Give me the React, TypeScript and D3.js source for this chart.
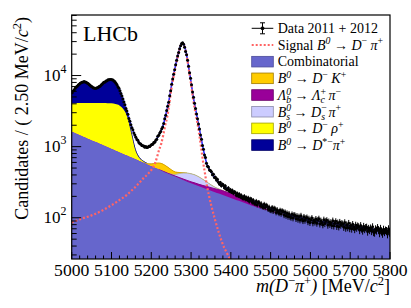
import React from "react";
import * as d3 from "d3";

const W = 411;
const H = 308;
const plot = { left: 71.7, right: 390, top: 15, bottom: 259 };
const font = "Liberation Serif, Tinos, Times New Roman, Times, serif";

// histogram: 320 bins of 2.5 MeV from 5000 to 5800
const binLow = 5000;
const binWidth = 2.5;
const dataCounts = [
  5712, 6055, 6260, 6601, 6875, 7046, 7362, 7551, 7812, 7896, 8075, 8119,
  8225, 8097, 8061, 7862, 7744, 7462, 7329, 7071, 6932, 6751, 6703, 6598,
  6611, 6758, 6797, 6985, 7086, 7371, 7523, 7829, 8047, 8142, 8396, 8478,
  8695, 8703, 8821, 8772, 8734, 8641, 8362, 8190, 7801, 7437, 6948, 6632,
  6132, 5574, 5139, 4669, 4233, 3891, 3452, 3171, 2844, 2497, 2281, 2032,
  1842, 1723, 1553, 1456, 1352, 1259, 1226, 1147, 1098, 1091, 1037, 1031,
  1019, 983, 1001, 972, 978, 1012, 1003, 1044, 1068, 1079, 1141, 1152,
  1226, 1275, 1398, 1447, 1557, 1632, 1779, 1895, 2112, 2471, 2765, 3226,
  3702, 4221, 5183, 6127, 7534, 8962, 10446, 12072, 14153, 16351, 18779, 21146,
  23771, 26248, 28301, 28822, 27534, 25089, 21742, 19567, 16458, 13561, 10945, 9139,
  7392, 5871, 4933, 4072, 3436, 2874, 2471, 2083, 1772, 1461, 1268, 1037,
  921, 764, 702, 586, 528, 517, 468, 461, 442, 403, 409, 368,
  371, 339, 347, 316, 298, 312, 283, 295, 288, 264, 279, 252,
  249, 262, 238, 247, 231, 242, 222, 230, 226, 208, 219, 203,
  214, 197, 206, 190, 188, 201, 183, 192, 179, 190, 171, 184,
  182, 165, 176, 160, 158, 171, 152, 165, 163, 147, 158, 144,
  141, 155, 139, 150, 146, 132, 141, 128, 127, 139, 124, 136,
  133, 119, 130, 121, 116, 127, 114, 125, 122, 109, 120, 107,
  116, 104, 114, 103, 101, 112, 99, 110, 108, 97, 106, 95,
  104, 93, 107, 96, 91, 103, 92, 99, 101, 88, 97, 86,
  94, 99, 85, 92, 87, 96, 84, 93, 97, 82, 91, 86,
  80, 94, 83, 90, 92, 79, 88, 81, 86, 78, 91, 77,
  84, 89, 76, 85, 75, 87, 79, 83, 82, 74, 86, 72,
  80, 73, 84, 71, 78, 70, 81, 74, 69, 79, 72, 77,
  75, 67, 78, 70, 66, 76, 69, 73, 74, 64, 71, 67,
  72, 65, 75, 63, 62, 70, 66, 73, 68, 61, 71, 64,
  60, 69, 63, 67, 66, 59, 70, 62,
];

// fit components, 10 MeV steps starting at "from" (zero outside the list)
const combFrom = 5000;
const combVals = [
  1620, 1532, 1449, 1370, 1296, 1225, 1159, 1096, 1036, 980,
  927, 877, 829, 784, 742, 701, 663, 627, 593, 561,
  530, 501, 474, 448, 423, 400, 379, 359, 340, 322,
  305, 291, 277, 264, 252, 240, 229, 219, 209, 199,
  190, 181, 173, 165, 157, 150, 144, 138, 133, 127,
  122, 118, 114, 110, 107, 103, 101, 99, 96, 94,
  92, 90, 89, 87, 86, 84, 82, 81, 79, 78,
  76, 75, 73, 72, 70, 69, 68, 67, 66, 65, 64,
];
const lbFrom = 5230;
const lbVals = [2, 3, 5, 7, 9, 11, 13, 15, 17, 18, 20, 23, 25, 27, 29, 30, 30, 30, 29, 27, 25, 22, 20, 15, 11, 8, 5, 3, 2, 1];
const bsFrom = 5250;
const bsVals = [5, 20, 50, 75, 90, 95, 92, 80, 62, 42, 25, 13, 6, 2];
const dkFrom = 5190;
const dkVals = [10, 40, 85, 115, 115, 95, 65, 35, 15, 5];
const rhoFrom = 5000;
const rhoVals = [2460, 2558, 2646, 2730, 2804, 2875, 2941, 3004, 3064, 3110, 3133, 3093, 2971, 2566, 1858, 799, 217, 63, 27, 9, 3];
const dstFrom = 5000;
const dstVals = [1434, 2522, 3513, 3985, 3600, 2792, 2405, 2775, 3665, 4363, 4580, 3855, 2410, 950, 185, 70, 30, 12, 5];

// signal shape (dotted)
const sigMass = [5000, 5025, 5050, 5075, 5100, 5125, 5140, 5150, 5160, 5170, 5180, 5190, 5200, 5210, 5220, 5225, 5230, 5235, 5240, 5245, 5250, 5255, 5260, 5265, 5270, 5275, 5278, 5280, 5285, 5290, 5295, 5300, 5305, 5310, 5315, 5320, 5325, 5330, 5335, 5340, 5345, 5350, 5360, 5370, 5380, 5390, 5400, 5410];
const sigVals = [86, 97, 108, 125, 150, 185, 212, 240, 270, 310, 358, 405, 467, 594, 911, 1100, 1450, 2000, 2600, 3900, 6200, 9000, 12500, 17000, 22000, 27000, 28600, 28200, 24000, 17500, 11500, 7600, 4700, 3200, 2300, 1550, 1000, 620, 420, 280, 205, 155, 95, 61, 42, 32, 25, 20];

// total fit (blue line)
const fitMass = [5000, 5010, 5020, 5030, 5040, 5050, 5060, 5070, 5080, 5090, 5100, 5110, 5120, 5130, 5140, 5150, 5160, 5170, 5180, 5190, 5200, 5210, 5220, 5225, 5230, 5235, 5240, 5245, 5250, 5255, 5260, 5265, 5270, 5275, 5278, 5280, 5285, 5290, 5295, 5300, 5305, 5310, 5315, 5320, 5325, 5330, 5335, 5340, 5345, 5350, 5360, 5370, 5380, 5390, 5400, 5410, 5420, 5430, 5440, 5450, 5460, 5480, 5500, 5525, 5550, 5575, 5600, 5650, 5700, 5750, 5800];
const fitVals = [5600, 6700, 7700, 8180, 7800, 7000, 6620, 7000, 7900, 8600, 8800, 8000, 6400, 4500, 3000, 1950, 1380, 1130, 1010, 985, 1040, 1180, 1500, 1700, 2000, 2600, 3400, 4600, 6800, 9600, 13000, 17500, 22500, 27500, 29000, 28600, 24400, 18000, 12000, 8100, 5200, 3700, 2650, 1900, 1350, 960, 720, 560, 490, 445, 365, 315, 282, 258, 240, 222, 209, 197, 186, 176, 166, 150, 134, 121, 108, 100, 93, 85, 77, 70, 64];

const xTicks = [5000, 5100, 5200, 5300, 5400, 5500, 5600, 5700, 5800];
const yDecades = [2, 3, 4];

type Part = { t: string; it?: boolean; pos?: "sup" | "sub"; dx?: number };

const legendRows: { kind: string; color?: string; edge?: string; parts: Part[] }[] = [
  { kind: "data", parts: [{ t: "Data 2011 + 2012" }] },
  {
    kind: "signal",
    parts: [{ t: "Signal " }, { t: "B", it: true }, { t: "0", it: true, pos: "sup" }, { t: " → " }, { t: "D", it: true }, { t: "−", pos: "sup" }, { t: " " }, { t: "π", it: true }, { t: "+", pos: "sup" }],
  },
  { kind: "box", color: "#6666cc", edge: "#4b4b99", parts: [{ t: "Combinatorial" }] },
  {
    kind: "box", color: "#ffcc00", edge: "#a07a00",
    parts: [{ t: "B", it: true }, { t: "0", it: true, pos: "sup" }, { t: " → " }, { t: "D", it: true }, { t: "−", pos: "sup" }, { t: " " }, { t: "K", it: true }, { t: "+", pos: "sup" }],
  },
  {
    kind: "box", color: "#990099", edge: "#660066",
    parts: [{ t: "Λ", it: true }, { t: "0", it: true, pos: "sup" }, { t: "b", it: true, pos: "sub", dx: -4.9 }, { t: " → " }, { t: "Λ", it: true }, { t: "+", pos: "sup" }, { t: "c", it: true, pos: "sub", dx: -5.5 }, { t: " " }, { t: "π", it: true }, { t: "−", pos: "sup" }],
  },
  {
    kind: "box", color: "#ccccff", edge: "#8a8aa8",
    parts: [{ t: "B", it: true }, { t: "0", it: true, pos: "sup" }, { t: "s", it: true, pos: "sub", dx: -4.9 }, { t: " → " }, { t: "D", it: true }, { t: "−", pos: "sup" }, { t: "s", it: true, pos: "sub", dx: -5.5 }, { t: " " }, { t: "π", it: true }, { t: "+", pos: "sup" }],
  },
  {
    kind: "box", color: "#ffff00", edge: "#a0a000",
    parts: [{ t: "B", it: true }, { t: "0", it: true, pos: "sup" }, { t: " → " }, { t: "D", it: true }, { t: "−", pos: "sup" }, { t: " " }, { t: "ρ", it: true }, { t: "+", pos: "sup" }],
  },
  {
    kind: "box", color: "#000099", edge: "#000066",
    parts: [{ t: "B", it: true }, { t: "0", it: true, pos: "sup" }, { t: " → " }, { t: "D", it: true }, { t: "*−", pos: "sup" }, { t: "π", it: true }, { t: "+", pos: "sup" }],
  },
];

const RichText = ({ x, y, size, parts, anchor = "start", raise = 0.38, transform }: any) => {
  let shift = 0;
  return (
    <text x={x} y={y} textAnchor={anchor} transform={transform} style={{ whiteSpace: "pre", fontFamily: font, fontSize: size }} fill="#000">
      {parts.map((p: Part, k: number) => {
        const target = p.pos === "sup" ? -raise * size : p.pos === "sub" ? 0.24 * size : 0;
        const dy = target - shift;
        shift = target;
        return (
          <tspan key={k} dy={dy} dx={p.dx ?? 0} style={{ fontStyle: p.it ? "italic" : "normal", fontSize: p.pos ? size * 0.7 : size }}>
            {p.t}
          </tspan>
        );
      })}
    </text>
  );
};

const App = () => {
  const x = d3.scaleLinear().domain([5000, 5800]).range([plot.left, plot.right]);
  const y = d3.scaleLog().domain([26.3, 71000]).range([plot.bottom, plot.top]);

  const grid = d3.range(5000, 5801, 10);
  const comps = [
    { from: combFrom, vals: combVals, fill: "#6666cc", stroke: null },
    { from: lbFrom, vals: lbVals, fill: "#990099", stroke: "#880088" },
    { from: bsFrom, vals: bsVals, fill: "#ccccff", stroke: "#b5b58f" },
    { from: dkFrom, vals: dkVals, fill: "#ffcc00", stroke: "#d9a400" },
    { from: rhoFrom, vals: rhoVals, fill: "#ffff00", stroke: null },
    { from: dstFrom, vals: dstVals, fill: "#000099", stroke: "#00007a" },
  ];
  const valueAt = (c: any, m: number) => {
    const i = Math.round((m - c.from) / 10);
    return i >= 0 && i < c.vals.length ? c.vals[i] : 0;
  };
  // cumulative stack tops
  const stacks: number[][] = [];
  comps.forEach((c, j) => {
    stacks.push(grid.map((m, i) => (j > 0 ? stacks[j - 1][i] : 0) + valueAt(c, m)));
  });

  const area = d3
    .area<number>()
    .x((_, i) => x(grid[i]))
    .y0(plot.bottom)
    .y1((v) => y(Math.max(v, 1)))
    .curve(d3.curveMonotoneX);

  const outline = (j: number) =>
    d3
      .line<number>()
      .defined((_, i) => {
        const c = comps[j];
        return [i - 1, i, i + 1].some((k) => k >= 0 && k < grid.length && valueAt(c, grid[k]) > 0);
      })
      .x((_, i) => x(grid[i]))
      .y((v) => y(Math.max(v, 1)))
      .curve(d3.curveMonotoneX)(stacks[j]);

  const fitLine = d3
    .line<number>()
    .x((_, i) => x(fitMass[i]))
    .y((v) => y(v))
    .curve(d3.curveMonotoneX)(fitVals);

  const sigLine = d3
    .line<number>()
    .x((_, i) => x(sigMass[i]))
    .y((v) => y(v))
    .curve(d3.curveMonotoneX)(sigVals);

  const minorX = d3.range(5000, 5801, 20).filter((v) => v % 100 !== 0);
  const minorY: number[] = [];
  [1, 2, 3, 4].forEach((d) => {
    for (let k = 2; k <= 9; k++) {
      const v = k * Math.pow(10, d);
      if (v > 26.3 && v < 71000) minorY.push(v);
    }
  });

  const legX0 = 251.7;
  const legX1 = 273.3;
  const legY0 = 28.3;
  const legStep = 16.68;

  return (
    <svg width={W} height={H} style={{ position: "absolute", left: 0, top: 0, background: "#fff" }}>
      <defs>
        <clipPath id="plotClip">
          <rect x={plot.left} y={plot.top} width={plot.right - plot.left} height={plot.bottom - plot.top} />
        </clipPath>
      </defs>
      <rect width={W} height={H} fill="#fff" />

      <g clipPath="url(#plotClip)">
        {comps
          .map((c, j) => ({ c, j }))
          .reverse()
          .map(({ c, j }) => (
            <g key={j}>
              <path d={area(stacks[j]) ?? ""} fill={c.fill} />
              {c.stroke && <path d={outline(j) ?? ""} fill="none" stroke={c.stroke} strokeWidth={1} />}
            </g>
          ))}
        <path d={fitLine ?? ""} fill="none" stroke="#2b2bff" strokeWidth={1.6} />
        <path d={sigLine ?? ""} fill="none" stroke="#ff6464" strokeWidth={2.2} strokeDasharray="2,2" />
        {dataCounts.map((n, i) => {
          const cx = x(binLow + binWidth * (i + 0.5));
          const e = Math.sqrt(n);
          return (
            <g key={i}>
              <line x1={cx} x2={cx} y1={y(n - e)} y2={y(n + e)} stroke="#000" strokeWidth={1} />
              <circle cx={cx} cy={y(n)} r={1.5} fill="#000" />
            </g>
          );
        })}
      </g>

      {/* frame and ticks */}
      <rect x={plot.left} y={plot.top} width={plot.right - plot.left} height={plot.bottom - plot.top} fill="none" stroke="#000" strokeWidth={1.2} />
      {xTicks.map((t) => (
        <line key={t} x1={x(t)} x2={x(t)} y1={plot.bottom} y2={plot.bottom - 7} stroke="#000" />
      ))}
      {minorX.map((t) => (
        <line key={t} x1={x(t)} x2={x(t)} y1={plot.bottom} y2={plot.bottom - 3.5} stroke="#000" />
      ))}
      {yDecades.map((d) => (
        <line key={d} x1={plot.left} x2={plot.left + 9.5} y1={y(Math.pow(10, d))} y2={y(Math.pow(10, d))} stroke="#000" />
      ))}
      {minorY.map((v) => (
        <line key={v} x1={plot.left} x2={plot.left + 5} y1={y(v)} y2={y(v)} stroke="#000" />
      ))}

      {xTicks.map((t) => (
        <text key={t} x={x(t)} y={276} textAnchor="middle" style={{ fontFamily: font, fontSize: 17.6 }}>
          {t}
        </text>
      ))}
      {yDecades.map((d) => (
        <RichText key={d} x={66.5} y={y(Math.pow(10, d)) + 5.5} size={17} anchor="end" raise={0.5} parts={[{ t: "10" }, { t: String(d), pos: "sup" }]} />
      ))}

      <RichText
        x={390}
        y={292}
        size={18}
        anchor="end"
        parts={[
          { t: "m", it: true }, { t: "(", it: true }, { t: "D", it: true }, { t: "−", pos: "sup" }, { t: "π", it: true }, { t: "+", pos: "sup" }, { t: ")", it: true },
          { t: " [MeV/" }, { t: "c", it: true }, { t: "2", pos: "sup" }, { t: "]" },
        ]}
      />
      <RichText
        x={0}
        y={0}
        size={18}
        anchor="end"
        transform="translate(28,17) rotate(-90)"
        parts={[{ t: "Candidates / ( 2.50 MeV/" }, { t: "c", it: true }, { t: "2", pos: "sup" }, { t: ")" }]}
      />

      <text x={83} y={41} style={{ fontFamily: font, fontSize: 22 }}>
        LHCb
      </text>

      {/* legend */}
      {legendRows.map((r, k) => {
        const cy = legY0 + k * legStep;
        const mid = (legX0 + legX1) / 2;
        return (
          <g key={k}>
            {r.kind === "data" && (
              <g stroke="#000" strokeWidth={1}>
                <line x1={legX0} x2={legX1} y1={cy} y2={cy} />
                <line x1={mid} x2={mid} y1={cy - 5.5} y2={cy + 5.5} />
                <line x1={mid - 2.5} x2={mid + 2.5} y1={cy - 5.5} y2={cy - 5.5} />
                <line x1={mid - 2.5} x2={mid + 2.5} y1={cy + 5.5} y2={cy + 5.5} />
                <circle cx={mid} cy={cy} r={1.5} fill="#000" />
              </g>
            )}
            {r.kind === "signal" && (
              <line x1={legX0} x2={legX1} y1={cy} y2={cy} stroke="#ff6464" strokeWidth={2} strokeDasharray="2,2" />
            )}
            {r.kind === "box" && (
              <rect x={legX0} y={cy - 5.3} width={legX1 - legX0} height={10.6} fill={r.color} stroke={r.edge} strokeWidth={0.8} />
            )}
            <RichText x={277.7} y={cy + 4.8} size={14} parts={r.parts} />
          </g>
        );
      })}
    </svg>
  );
};

export default App;
